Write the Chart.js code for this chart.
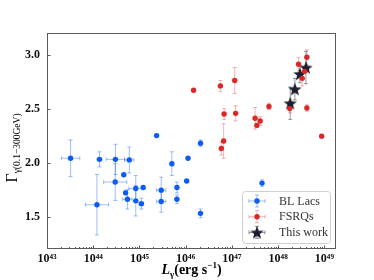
<!DOCTYPE html>
<html>
<head>
<meta charset="utf-8">
<script src="https://cdn.jsdelivr.net/npm/chart.js@4.4.1/dist/chart.umd.min.js"></script>
<style>
  html, body { margin: 0; padding: 0; background: #fff; }
  #wrap { width: 374px; height: 280px; }
</style>
</head>
<body>
<div id="wrap"><canvas id="gammaChart" width="374" height="280"></canvas></div>
<script>
// log10 of L_gamma, photon index, and errors (x errors in dex)
const blLogL  = [43.51, 44.135, 44.48, 44.78, 44.475, 44.66, 44.08, 44.70, 44.74, 44.92, 44.92, 45.04, 45.08, 45.37, 45.47, 45.47, 45.70, 45.81, 45.81, 46.02, 46.05, 46.32, 46.32, 47.65];
const blGamma = [2.04, 2.03, 2.03, 2.025, 1.82, 1.887, 1.61, 1.72, 1.66, 1.76, 1.646, 1.62, 1.77, 2.25, 1.745, 1.64, 1.99, 1.77, 1.66, 1.83, 2.04, 2.18, 1.53, 1.81];
const blXerr  = [0.2, 0.05, 0.2, 0.1, 0.25, 0, 0.25, 0, 0.1, 0.15, 0, 0.05, 0, 0, 0.1, 0.1, 0, 0, 0, 0, 0, 0, 0, 0];
const blYerr  = [0.17, 0.07, 0.14, 0.12, 0.17, 0, 0.28, 0.02, 0.09, 0.12, 0.14, 0.05, 0, 0, 0.12, 0.1, 0.11, 0.05, 0.04, 0, 0, 0.03, 0.04, 0.03];

const fsLogL  = [46.17, 46.75, 47.06, 46.83, 47.08, 46.77, 46.82, 47.50, 47.54, 47.61, 47.80, 48.25, 48.62, 48.94, 48.44, 48.62, 48.57, 48.52];
const fsGamma = [2.67, 2.71, 2.76, 2.45, 2.456, 2.13, 2.20, 2.41, 2.345, 2.385, 2.52, 2.50, 2.505, 2.245, 2.91, 2.975, 2.845, 2.78];
const fsYerr  = [0, 0.05, 0.12, 0.05, 0.07, 0.06, 0.16, 0.1, 0.02, 0.04, 0.03, 0.04, 0.03, 0, 0.06, 0.07, 0, 0.07];

const twLogL  = [48.26, 48.36, 48.47, 48.60];
const twGamma = [2.55, 2.68, 2.82, 2.88];
const twYerr  = [0.15, 0.10, 0.08, 0.15];

const xTickExps = [43, 44, 45, 46, 47, 48, 49];
const yTicks = [1.5, 2.0, 2.5, 3.0];

const blue = '#0b5cf2';
const red = '#dc2727';
const starColor = '#1c1d2e';

const toPoints = (logs, vals) => logs.map((l, i) => ({ x: Math.pow(10, l), y: vals[i] }));

// filled five-point star used as a point style
function makeStar(size, color) {
    const c = document.createElement('canvas');
    c.width = size; c.height = size;
    const g = c.getContext('2d');
    const cx = size / 2, cy = size / 2 + 0.6, R = size / 2, r = R * 0.42;
    g.beginPath();
    for (let i = 0; i < 10; i++) {
        const rad = i % 2 ? r : R;
        const a = -Math.PI / 2 + i * Math.PI / 5;
        g.lineTo(cx + rad * Math.cos(a), cy + rad * Math.sin(a));
    }
    g.closePath();
    g.fillStyle = color;
    g.fill();
    return c;
}
const starImg = makeStar(14, starColor);

const errs = [
    { xerr: blXerr, yerr: blYerr, color: 'rgba(11,92,242,0.4)' },
    { xerr: null, yerr: fsYerr, color: 'rgba(220,39,39,0.35)' },
    { xerr: null, yerr: twYerr, color: 'rgba(28,29,46,0.45)' }
];
const logsets = [blLogL, fsLogL, twLogL];
const valsets = [blGamma, fsGamma, twGamma];

const errorBars = {
    id: 'errorBars',
    beforeDatasetsDraw(chart) {
        const ctx = chart.ctx, xs = chart.scales.x, ys = chart.scales.y;
        ctx.save();
        ctx.lineWidth = 1;
        errs.forEach((e, d) => {
            ctx.strokeStyle = e.color;
            logsets[d].forEach((l, i) => {
                const px = xs.getPixelForValue(Math.pow(10, l));
                const py = ys.getPixelForValue(valsets[d][i]);
                const dy = e.yerr[i];
                if (dy) {
                    const t = ys.getPixelForValue(valsets[d][i] + dy);
                    const b = ys.getPixelForValue(valsets[d][i] - dy);
                    ctx.beginPath();
                    ctx.moveTo(px, t); ctx.lineTo(px, b);
                    ctx.moveTo(px - 2, t); ctx.lineTo(px + 2, t);
                    ctx.moveTo(px - 2, b); ctx.lineTo(px + 2, b);
                    ctx.stroke();
                }
                const dx = e.xerr ? e.xerr[i] : 0;
                if (dx) {
                    const a = xs.getPixelForValue(Math.pow(10, l - dx));
                    const b = xs.getPixelForValue(Math.pow(10, l + dx));
                    ctx.beginPath();
                    ctx.moveTo(a, py); ctx.lineTo(b, py);
                    ctx.moveTo(a, py - 2); ctx.lineTo(a, py + 2);
                    ctx.moveTo(b, py - 2); ctx.lineTo(b, py + 2);
                    ctx.stroke();
                }
            });
        });
        ctx.restore();
    }
};

const frameAndText = {
    id: 'frameAndText',
    afterDraw(chart) {
        const ctx = chart.ctx, a = chart.chartArea, xs = chart.scales.x, ys = chart.scales.y;
        ctx.save();
        // frame
        ctx.strokeStyle = '#5a5a5a';
        ctx.lineWidth = 1;
        ctx.strokeRect(a.left + 0.5, a.top + 0.5, a.right - a.left - 1, a.bottom - a.top - 1);
        // inward ticks
        ctx.beginPath();
        for (let e = 43; e <= 49; e++) {
            for (let m = 1; m <= 9; m++) {
                const v = m * Math.pow(10, e);
                if (v > xs.max) break;
                const px = Math.round(xs.getPixelForValue(v)) + 0.5;
                const len = m === 1 ? 3.5 : 2;
                ctx.moveTo(px, a.bottom); ctx.lineTo(px, a.bottom - len);
            }
        }
        yTicks.forEach(v => {
            const py = Math.round(ys.getPixelForValue(v)) + 0.5;
            ctx.moveTo(a.left, py); ctx.lineTo(a.left + 3.5, py);
        });
        ctx.stroke();

        // x title: L_gamma (erg s^-1)
        const parts = [
            { t: 'L', f: 'italic bold 14px "Liberation Serif"', dy: 0 },
            { t: 'γ', f: 'bold 9px "Liberation Serif"', dy: 3 },
            { t: '(erg s', f: 'bold 14px "Liberation Serif"', dy: 0 },
            { t: '−1', f: 'bold 9px "Liberation Serif"', dy: -6 },
            { t: ')', f: 'bold 14px "Liberation Serif"', dy: 0 }
        ];
        ctx.fillStyle = '#000';
        ctx.textBaseline = 'alphabetic';
        ctx.textAlign = 'left';
        let w = 0;
        parts.forEach(p => { ctx.font = p.f; p.w = ctx.measureText(p.t).width; w += p.w; });
        let x = (a.left + a.right) / 2 - w / 2;
        parts.forEach(p => { ctx.font = p.f; ctx.fillText(p.t, x, 274 + p.dy); x += p.w; });

        // y title: Gamma_gamma(0.1-300GeV)
        ctx.translate(17, (a.top + a.bottom) / 2 + 7);
        ctx.rotate(-Math.PI / 2);
        const yp = [
            { t: 'Γ', f: '16px "Liberation Serif"', dy: 0 },
            { t: 'γ(0.1−300GeV)', f: '9.5px "Liberation Serif"', dy: 3 }
        ];
        w = 0;
        yp.forEach(p => { ctx.font = p.f; p.w = ctx.measureText(p.t).width; w += p.w; });
        x = -w / 2;
        yp.forEach(p => { ctx.font = p.f; ctx.fillText(p.t, x, p.dy); x += p.w; });
        ctx.setTransform(1, 0, 0, 1, 0, 0);

        // legend
        const lx = 242, ly = 191, lw = 88, lh = 52;
        ctx.fillStyle = 'rgba(255,255,255,0.85)';
        ctx.strokeStyle = '#d0d0d0';
        ctx.beginPath();
        ctx.roundRect(lx + 0.5, ly + 0.5, lw, lh, 3);
        ctx.fill();
        ctx.stroke();
        const items = [
            { label: 'BL Lacs', color: blue, err: 'rgba(11,92,242,0.4)', star: false },
            { label: 'FSRQs', color: red, err: 'rgba(220,39,39,0.35)', star: false },
            { label: 'This work', color: starColor, err: 'rgba(28,29,46,0.45)', star: true }
        ];
        items.forEach((it, i) => {
            const cy = 201 + i * 15.7, cx = 257;
            ctx.strokeStyle = it.err;
            ctx.beginPath();
            ctx.moveTo(cx - 8, cy); ctx.lineTo(cx + 8, cy);
            ctx.moveTo(cx - 8, cy - 2); ctx.lineTo(cx - 8, cy + 2);
            ctx.moveTo(cx + 8, cy - 2); ctx.lineTo(cx + 8, cy + 2);
            ctx.moveTo(cx, cy - 6); ctx.lineTo(cx, cy + 6);
            ctx.moveTo(cx - 2, cy - 6); ctx.lineTo(cx + 2, cy - 6);
            ctx.moveTo(cx - 2, cy + 6); ctx.lineTo(cx + 2, cy + 6);
            ctx.stroke();
            if (it.star) {
                ctx.drawImage(starImg, cx - 7, cy - 7);
            } else {
                ctx.fillStyle = it.color;
                ctx.beginPath();
                ctx.arc(cx, cy, 2.7, 0, Math.PI * 2);
                ctx.fill();
            }
            ctx.fillStyle = '#333';
            ctx.font = '12px "Liberation Serif"';
            ctx.textBaseline = 'middle';
            ctx.fillText(it.label, 279, cy + 0.5);
        });
        ctx.restore();
    }
};

const supers = { '0': '⁰', '1': '¹', '2': '²', '3': '³', '4': '⁴', '5': '⁵', '6': '⁶', '7': '⁷', '8': '⁸', '9': '⁹' };

new Chart(document.getElementById('gammaChart'), {
    type: 'scatter',
    data: {
        datasets: [
            { label: 'BL Lacs', data: toPoints(blLogL, blGamma), backgroundColor: blue, borderColor: blue, pointRadius: 2.7, borderWidth: 0 },
            { label: 'FSRQs', data: toPoints(fsLogL, fsGamma), backgroundColor: red, borderColor: red, pointRadius: 2.7, borderWidth: 0 },
            { label: 'This work', data: toPoints(twLogL, twGamma), pointStyle: starImg, pointRadius: 7 }
        ]
    },
    options: {
        responsive: false,
        animation: false,
        devicePixelRatio: 1,
        layout: { padding: { top: 33, right: 38, left: 0, bottom: 0 } },
        plugins: { legend: { display: false }, tooltip: { enabled: false } },
        scales: {
            x: {
                type: 'logarithmic',
                min: 1e43,
                max: Math.pow(10, 49.25),
                grid: { display: false, drawTicks: false },
                border: { display: false },
                afterBuildTicks: s => { s.ticks = xTickExps.map(e => ({ value: Math.pow(10, e) })); },
                afterFit: s => { s.height = 31; },
                ticks: {
                    autoSkip: false,
                    maxRotation: 0,
                    padding: 3,
                    color: '#111',
                    font: { family: '"Liberation Serif"', weight: 'bold', size: 12 },
                    callback: v => '10' + String(Math.round(Math.log10(v))).split('').map(c => supers[c]).join('')
                }
            },
            y: {
                min: 1.2,
                max: 3.2,
                grid: { display: false, drawTicks: false },
                border: { display: false },
                afterBuildTicks: s => { s.ticks = yTicks.map(v => ({ value: v })); },
                afterFit: s => { s.width = 47; },
                ticks: {
                    padding: 7,
                    color: '#111',
                    font: { family: '"Liberation Serif"', weight: 'bold', size: 12 },
                    callback: v => v.toFixed(1)
                }
            }
        }
    },
    plugins: [errorBars, frameAndText]
});
</script>
</body>
</html>
